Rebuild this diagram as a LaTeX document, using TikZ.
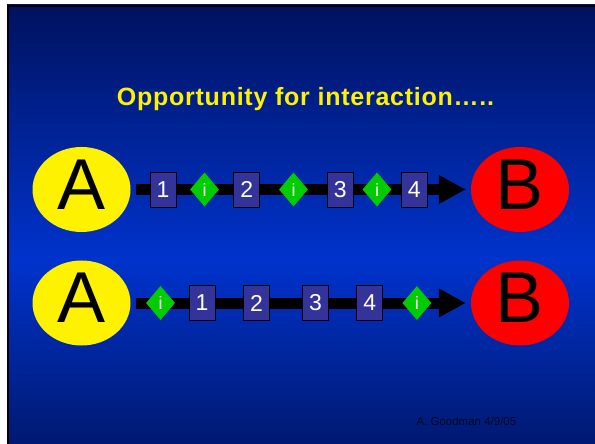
\documentclass[tikz,border=0pt]{standalone}
\usepackage{fontspec}
\setmainfont{Liberation Sans}
\usetikzlibrary{shapes.geometric,arrows.meta}
\definecolor{slidetop}{RGB}{0,18,95}
\definecolor{slidemid}{RGB}{0,51,204}
\definecolor{slidebot}{RGB}{0,24,110}
\definecolor{msgblue}{RGB}{51,51,153}
\definecolor{intgreen}{RGB}{0,204,0}
\definecolor{footink}{RGB}{2,6,35}
\begin{document}
\begin{tikzpicture}[x=1bp,y=-1bp,
    party/.style={ellipse,minimum width=98bp,minimum height=85bp,inner sep=0pt,
        text height=45.5bp,text depth=6bp,font=\fontsize{72bp}{72bp}\selectfont},
    msg/.style={rectangle,draw=black,line width=0.8bp,fill=msgblue,text=white,
        minimum width=26bp,minimum height=35bp,inner sep=0pt,font=\fontsize{23bp}{23bp}\selectfont},
    inter/.style={diamond,fill=intgreen,text=white,minimum width=29bp,minimum height=34bp,
        inner sep=0pt,font=\fontsize{18bp}{18bp}\selectfont},
    flow/.style={line width=11bp,-{Triangle[length=27bp,width=27bp]},shorten <=5bp,shorten >=5bp}]
    % slide background
    \useasboundingbox (0,0) rectangle (595,444);
    \fill[white] (-5,-5) rectangle (600,450);
    \shade[top color=slidetop,bottom color=slidemid] (7,5) rectangle (600,260);
    \shade[top color=slidemid,bottom color=slidebot] (7,260) rectangle (600,450);
    \draw[line width=2.5bp] (8.2,450) -- (8.2,6.2) -- (600,6.2);

    \node[anchor=base,text=yellow,font=\fontsize{25bp}{25bp}\selectfont\bfseries\addfontfeature{LetterSpace=3}] (title) at (305.5,106) {Opportunity for interaction…..};

    % first row
    \node[party,fill=yellow] (A1) at (81.5,189.5) {A};
    \node[party,fill=red] (B1) at (520,189.5) {B};
    \draw[flow] (A1) -- (B1);
    \node[msg] (m11) at (163,189.5) {1};
    \node[inter] (i11) at (204.5,189.5) {i};
    \node[msg] (m12) at (246.7,189.5) {2};
    \node[inter] (i12) at (293.5,189.5) {i};
    \node[msg] (m13) at (340.2,189.5) {3};
    \node[inter] (i13) at (377,189.5) {i};
    \node[msg] (m14) at (414.2,189.5) {4};

    % second row
    \node[party,fill=yellow] (A2) at (81.5,303) {A};
    \node[party,fill=red] (B2) at (520,303) {B};
    \draw[flow] (A2) -- (B2);
    \node[inter] (i21) at (160.5,303) {i};
    \node[msg] (m21) at (202,303) {1};
    \node[msg] (m22) at (256.5,303) {2};
    \node[msg] (m23) at (315.4,303) {3};
    \node[msg] (m24) at (369.8,303) {4};
    \node[inter] (i22) at (416.9,303) {i};

    \node[anchor=base west,text=footink,font=\fontsize{11.5bp}{11.5bp}\selectfont] (foot) at (413,425) {A. Goodman 4/9/05};
\end{tikzpicture}
\end{document}
